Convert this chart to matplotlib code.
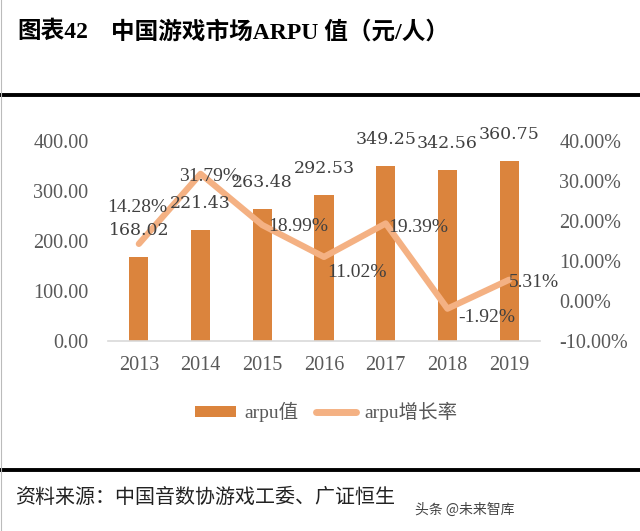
import numpy as np
import matplotlib.pyplot as plt
from matplotlib.lines import Line2D
from matplotlib.patches import Patch

# Data
years = ['2013', '2014', '2015', '2016', '2017', '2018', '2019']
arpu = [168.02, 221.43, 263.48, 292.53, 349.25, 342.56, 360.75]
growth = [14.28, 31.79, 18.99, 11.02, 19.39, -1.92, 5.31]

# Label offsets (points) and alignment for growth labels
growth_offsets = [(-1, 26), (6, -2), (4, -1), (2, -11), (2, -3), (8, -6), (0, -2)]
growth_ha = ['center', 'center', 'left', 'left', 'left', 'left', 'left']

bar_color = '#DB843D'
line_color = '#F4B183'
tick_color = '#595959'
label_color = '#404040'
serif = ['Liberation Serif', 'Noto Sans CJK SC']

fig = plt.figure(figsize=(6.4, 5.31), dpi=100)
ax = fig.add_axes([108 / 640, 190 / 531, 432 / 640, 200 / 531])
ax2 = ax.twinx()

x = np.arange(len(years))
ax.bar(x, arpu, width=0.31, color=bar_color, zorder=2)
ax.set_xlim(-0.5, len(years) - 0.5)
ax.set_ylim(0, 400)
ax.set_yticks(np.arange(0, 401, 100))
ax.set_yticklabels([f'{v:.2f}' for v in np.arange(0, 401, 100)])
ax.set_xticks(x)
ax.set_xticklabels(years)

ax2.plot(x, growth, color=line_color, lw=4.5, solid_capstyle='round',
         solid_joinstyle='round', zorder=3)
ax2.set_ylim(-10, 40)
ax2.set_yticks(np.arange(-10, 41, 10))
ax2.set_yticklabels([f'{v:.2f}%' for v in np.arange(-10, 41, 10)])

for a in (ax, ax2):
    for s in a.spines.values():
        s.set_visible(False)
    a.tick_params(length=0, colors=tick_color, labelsize=14.5)
    for t in a.get_xticklabels() + a.get_yticklabels():
        t.set_fontfamily('Liberation Serif')
ax.spines['bottom'].set_visible(True)
ax.spines['bottom'].set_color('#D9D9D9')
ax.spines['bottom'].set_linewidth(1.2)
ax.tick_params(axis='y', pad=14)
ax.tick_params(axis='x', pad=11)
ax2.tick_params(axis='y', pad=14)

# bar value labels (drawn on the top axes so they sit above the line)
for xi, v in zip(x, arpu):
    ax2.annotate(f'{v:.2f}', (xi, v), xycoords=ax.transData, xytext=(0, 19),
                 textcoords='offset points', ha='center', va='center',
                 fontsize=12.5, color=label_color, family='DejaVu Serif', zorder=5)

# growth labels
for xi, g, off, ha in zip(x, growth, growth_offsets, growth_ha):
    ax2.annotate(f'{g:.2f}%', (xi, g), xytext=off, textcoords='offset points',
                 ha=ha, va='center', fontsize=14, color=label_color,
                 family='Liberation Serif', zorder=5)

# legend
handles = [Patch(facecolor=bar_color, edgecolor='none'),
           Line2D([0], [0], color=line_color, lw=5, solid_capstyle='round')]
fig.legend(handles, ['arpu值', 'arpu增长率'], loc='center',
           bbox_to_anchor=(0.51, 1 - 412 / 531), ncol=2, frameon=False,
           prop={'family': serif, 'size': 14}, handlelength=2.1,
           handleheight=0.5, handletextpad=0.4, columnspacing=0.9,
           labelcolor=tick_color)

# title and frame lines
fig.text(17 / 640, 1 - 32 / 531, '图表42', fontsize=17, fontweight='bold',
         family=serif, va='center', ha='left', color='black')
fig.text(111 / 640, 1 - 32 / 531, '中国游戏市场ARPU 值（元/人）', fontsize=17,
         fontweight='bold', family=serif, va='center', ha='left', color='black')
fig.add_artist(Line2D([0, 1], [1 - 95 / 531, 1 - 95 / 531], color='black', lw=2.8))
fig.add_artist(Line2D([0, 1], [1 - 470 / 531, 1 - 470 / 531], color='black', lw=2.8))
fig.add_artist(Line2D([0.8 / 640, 0.8 / 640], [0, 1], color='#BBBBBB', lw=0.8))

# source
fig.text(15 / 640, 1 - 497 / 531, '资料来源：中国音数协游戏工委、广证恒生', fontsize=14.4,
         family=['Noto Sans CJK SC'], va='center', ha='left', color='#222222')
fig.text(415 / 640, 1 - 510 / 531, '头条 @未来智库', fontsize=10,
         family=['Noto Sans CJK SC'], va='center', ha='left', color='#444444')

fig.savefig('out.png', dpi=100)
